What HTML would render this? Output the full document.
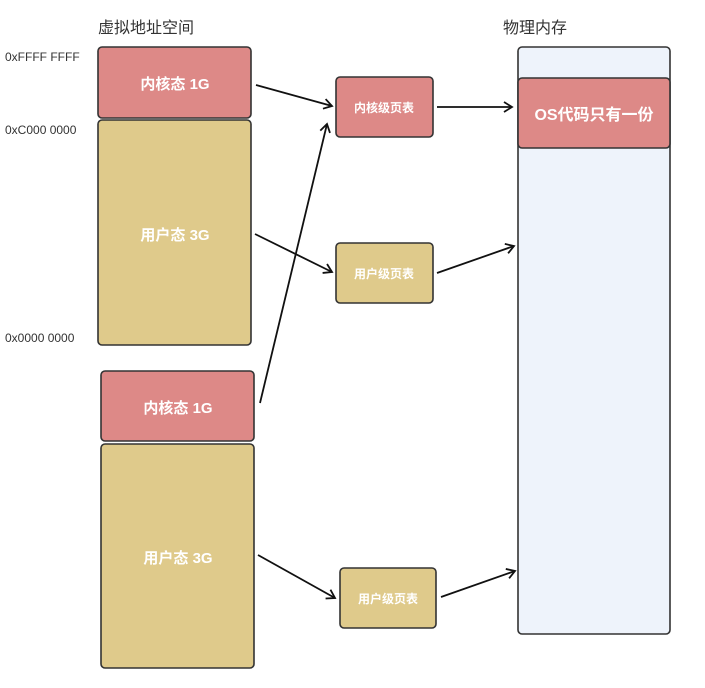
<!DOCTYPE html>
<html><head><meta charset="utf-8"><style>
body{margin:0;background:#fff;width:705px;height:683px;overflow:hidden}
svg text{font-family:"Liberation Sans","Noto Sans CJK SC",sans-serif}
</style></head><body>
<svg width="705" height="683" viewBox="0 0 705 683" xmlns="http://www.w3.org/2000/svg">
<defs><marker id="a" markerWidth="12" markerHeight="12" refX="10" refY="6" orient="auto" markerUnits="userSpaceOnUse"><path d="M2,1 L10,6 L2,11" fill="none" stroke="#111" stroke-width="1.8"/></marker></defs>
<g font-size="16" fill="#333">
<text x="98" y="33">虚拟地址空间</text>
<text x="503" y="33">物理内存</text>
</g>
<g font-size="12" fill="#333">
<text x="5" y="61">0xFFFF FFFF</text>
<text x="5" y="134">0xC000 0000</text>
<text x="5" y="342">0x0000 0000</text>
</g>
<g stroke="#333" stroke-width="1.6">
<rect x="518" y="47" width="152" height="587" rx="4" fill="#eef3fb"/>
<rect x="518" y="78" width="152" height="70" rx="4" fill="#dd8987"/>
<rect x="98" y="47" width="153" height="71" rx="4" fill="#dd8987"/>
<rect x="98" y="120" width="153" height="225" rx="4" fill="#dfca8b"/>
<rect x="101" y="371" width="153" height="70" rx="4" fill="#dd8987"/>
<rect x="101" y="444" width="153" height="224" rx="4" fill="#dfca8b"/>
<rect x="336" y="77" width="97" height="60" rx="4" fill="#dd8987"/>
<rect x="336" y="243" width="97" height="60" rx="4" fill="#dfca8b"/>
<rect x="340" y="568" width="96" height="60" rx="4" fill="#dfca8b"/>
</g>
<g fill="#fff" font-weight="bold" text-anchor="middle">
<text x="175" y="89" font-size="15">内核态 1G</text>
<text x="175" y="240" font-size="15">用户态 3G</text>
<text x="178" y="413" font-size="15">内核态 1G</text>
<text x="178" y="563" font-size="15">用户态 3G</text>
<text x="594" y="120" font-size="16">OS代码只有一份</text>
<text x="384" y="112" font-size="12">内核级页表</text>
<text x="384" y="278" font-size="12">用户级页表</text>
<text x="388" y="603" font-size="12">用户级页表</text>
</g>
<g stroke="#111" stroke-width="1.8" fill="none" marker-end="url(#a)">
<line x1="256" y1="85" x2="332" y2="106"/>
<line x1="437" y1="107" x2="512" y2="107"/>
<line x1="255" y1="234" x2="332" y2="272"/>
<line x1="437" y1="273" x2="514" y2="246"/>
<line x1="260" y1="403" x2="327" y2="124"/>
<line x1="258" y1="555" x2="335" y2="598"/>
<line x1="441" y1="597" x2="515" y2="571"/>
</g>
</svg>
</body></html>
